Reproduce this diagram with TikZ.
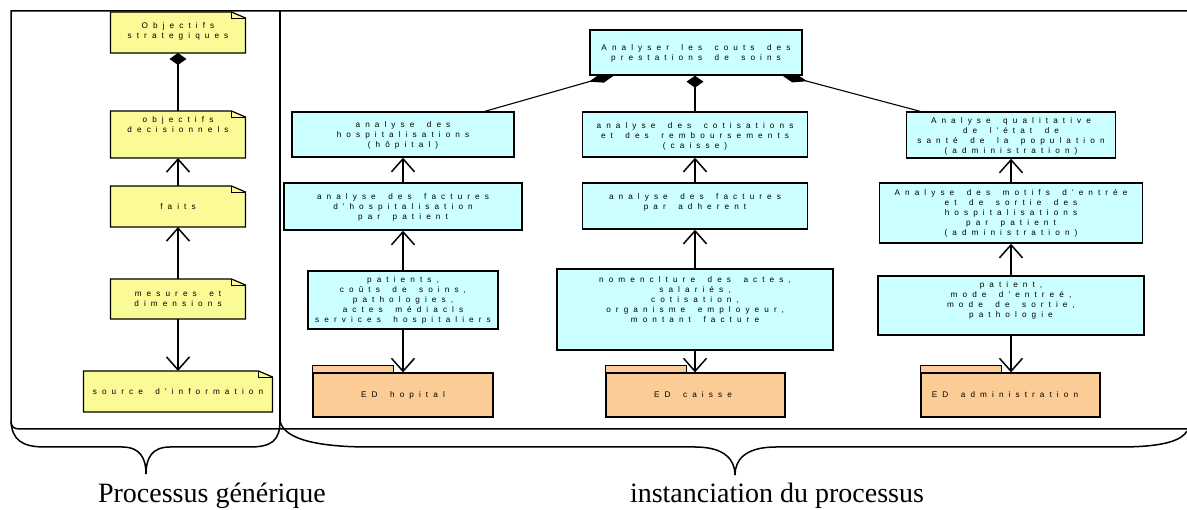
\documentclass[tikz,border=0pt]{standalone}
\usepackage{fontspec}
\usetikzlibrary{arrows.meta}
\newfontfamily\boxfont[LetterSpace=62,WordSpace=1.7]{Liberation Sans}
\newfontfamily\labfont{Liberation Serif}
\definecolor{notey}{RGB}{250,250,150}
\definecolor{cyanbox}{RGB}{204,255,255}
\definecolor{folderc}{RGB}{252,204,150}
\pgfdeclarelayer{bg}
\pgfsetlayers{bg,main}
\newcommand\drawnote[1]{%
  \draw[notestyle] (#1.south west) -- (#1.north west) -- ([xshift=-14pt]#1.north east) -- ([yshift=-6pt]#1.north east) -- (#1.south east) -- cycle;
  \draw[line width=0.8pt] ([xshift=-14pt]#1.north east) -- ([xshift=-14pt,yshift=-6pt]#1.north east) -- ([yshift=-6pt]#1.north east);}
\newcommand\drawtab[1]{%
  \draw[folderstyle] (#1.north west) rectangle ([xshift=81pt,yshift=7pt]#1.north west);}
\begin{document}
\begin{tikzpicture}[x=1pt,y=-1pt,
  txt/.style={font=\boxfont\fontsize{8.2}{10}\selectfont, align=center, inner sep=0pt},
  notenode/.style={inner sep=0pt, outer sep=0pt},
  notestyle/.style={draw=black, fill=notey, line width=1.2pt},
  cbox/.style={draw=black, fill=cyanbox, line width=1.4pt, inner sep=0pt},
  folderstyle/.style={draw=black, fill=folderc, line width=1.2pt},
  fbox/.style={folderstyle, inner sep=0pt},
  frame/.style={line width=1.5pt},
  conn/.style={line width=2pt},
  toarrow/.style={conn, -{Straight Barb[length=13pt,width=23pt,line width=1.5pt]}},
  todiam/.style={conn, -{Diamond[length=12pt,width=17pt]}},
  diagdiam/.style={line width=1.1pt, -{Diamond[length=28pt,width=10pt]}},
  lab/.style={font=\labfont\fontsize{28}{32}\selectfont, inner sep=0pt, anchor=base}
]
\useasboundingbox (0,0) rectangle (1187,510);
% frame and braces
\draw[frame] (1187,11) -- (11,11) -- (11,421) .. controls (11,427) and (14,429) .. (20,429) -- (1187,429);
\draw[frame] (280,11) -- (280,421);
\draw[frame] (11,421) .. controls (12,440) and (22,447) .. (45,447) -- (122,447)
  .. controls (140,447) and (146,458) .. (146,474)
  .. controls (146,458) and (152,447) .. (170,447) -- (250,447)
  .. controls (272,447) and (280,440) .. (280,421);
\draw[frame] (280,421) .. controls (284,440) and (320,447) .. (370,447) -- (695,447)
  .. controls (725,447) and (735,460) .. (735,475)
  .. controls (735,460) and (745,447) .. (776,447) -- (1120,447)
  .. controls (1165,447) and (1182,440) .. (1187,431);
\node[lab] (lgen) at (212,503) {Processus générique};
\node[lab] (linst) at (777,503) {instanciation du processus};

% left column
\node[notenode, minimum width=135pt, minimum height=41pt] (os) at (178,32.5) {};
\drawnote{os}
\node[txt] (tos) at (178,31.5) {Objectifs\\strategiques};
\node[notenode, minimum width=135pt, minimum height=47pt] (od) at (178,134.5) {};
\drawnote{od}
\node[txt] (tod) at (178,125) {objectifs\\decisionnels};
\node[notenode, minimum width=135pt, minimum height=41pt] (fa) at (178,206.5) {};
\drawnote{fa}
\node[txt] (tfa) at (178,207) {faits};
\node[notenode, minimum width=135pt, minimum height=40pt] (me) at (178,299) {};
\drawnote{me}
\node[txt] (tme) at (178,299) {mesures et\\dimensions};
\node[notenode, minimum width=189pt, minimum height=41pt] (so) at (178,391.5) {};
\drawnote{so}
\node[txt] (tso) at (178,392) {source d'information};

% right: top
\node[cbox, minimum width=212pt, minimum height=45pt] (top) at (696,52.5) {};
\node[txt] (ttop) at (696,53) {Analyser les couts des\\prestations de soins};

% row 1
\node[cbox, minimum width=222pt, minimum height=45pt] (h1) at (403,134.5) {};
\node[txt] (th1) at (403,135.5) {analyse des\\hospitalisations\\(hôpital)};
\node[cbox, minimum width=225pt, minimum height=45pt] (c1) at (695,134.5) {};
\node[txt] (tc1) at (695,136) {analyse des cotisations\\et des remboursements\\(caisse)};
\node[cbox, minimum width=209pt, minimum height=46pt] (a1) at (1011,135) {};
\node[txt] (ta1) at (1011,136) {Analyse qualitative\\de l'état de\\santé de la population\\(administration)};

% row 2
\node[cbox, minimum width=238pt, minimum height=47pt] (h2) at (403,206.5) {};
\node[txt] (th2) at (403,207) {analyse des factures\\d'hospitalisation\\par patient};
\node[cbox, minimum width=225pt, minimum height=46pt] (c2) at (695,206) {};
\node[txt] (tc2) at (695,202) {analyse des factures\\par adherent};
\node[cbox, minimum width=263pt, minimum height=60pt] (a2) at (1011,213) {};
\node[txt] (ta2) at (1011,213) {Analyse des motifs d'entrée\\et de sortie des\\hospitalisations\\par patient\\(administration)};

% row 3
\node[cbox, minimum width=190pt, minimum height=58pt] (h3) at (403,300) {};
\node[txt] (th3) at (403,300) {patients,\\coûts de soins,\\pathologies,\\actes médiacls\\services hospitaliers};
\node[cbox, minimum width=276pt, minimum height=81pt] (c3) at (695,309.5) {};
\node[txt] (tc3) at (695,299.5) {nomenclture des actes,\\salariés,\\cotisation,\\organisme employeur,\\montant facture};
\node[cbox, minimum width=266pt, minimum height=59pt] (a3) at (1011,305.5) {};
\node[txt] (ta3) at (1011,300.5) {patient,\\mode d'entreé,\\mode de sortie,\\pathologie};

% row 4 folders
\node[fbox, minimum width=180pt, minimum height=44pt] (h4) at (403,395) {};
\drawtab{h4}
\node[txt] (th4) at (403,395) {ED hopital};
\node[fbox, minimum width=179pt, minimum height=44pt] (c4) at (695.5,395) {};
\drawtab{c4}
\node[txt] (tc4) at (693,395) {ED caisse};
\node[fbox, minimum width=179pt, minimum height=44pt] (a4) at (1010.5,395) {};
\drawtab{a4}
\node[txt] (ta4) at (1005,395) {ED administration};

\coordinate (tl) at (616,74);
\coordinate (tr) at (780,74);

\begin{pgfonlayer}{bg}
\draw[todiam] (od.north) -- (os.south);
\draw[toarrow] (fa.north) -- (od.south);
\draw[toarrow] (me.north) -- (fa.south);
\draw[toarrow] (me.south) -- (so.north);

\draw[diagdiam] ([xshift=82pt]h1.north) -- (tl);
\draw[diagdiam] ([xshift=-91pt]a1.north) -- (tr);
\draw[todiam] (c1.north) -- (c1.north |- top.south);

\draw[toarrow] (h2.north) -- (h1.south);
\draw[toarrow] (h3.north) -- (h2.south);
\draw[toarrow] (h3.south) -- (h4.north);
\draw[toarrow] (c2.north) -- (c1.south);
\draw[toarrow] (c3.north) -- (c2.south);
\draw[toarrow] (c3.south) -- (c3.south |- c4.north);
\draw[toarrow] (a2.north) -- (a2.north |- a1.south);
\draw[toarrow] (a3.north) -- (a3.north |- a2.south);
\draw[toarrow] (a3.south) -- (a3.south |- a4.north);
\end{pgfonlayer}
\end{tikzpicture}
\end{document}
